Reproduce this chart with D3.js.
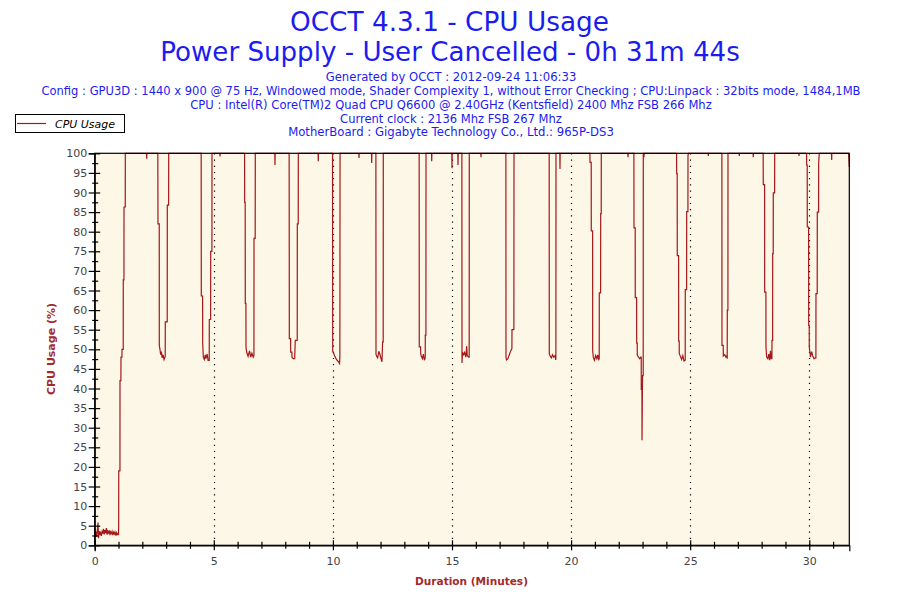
<!DOCTYPE html>
<html>
<head>
<meta charset="utf-8">
<script src="https://cdn.jsdelivr.net/npm/d3@7"></script>
<style>
  html, body { margin: 0; padding: 0; background: #ffffff; }
  svg { display: block; }
</style>
</head>
<body>
<svg id="chart" width="900" height="600"></svg>
<script>
// ---------------- DATA ----------------
const titleLines = ["OCCT 4.3.1 - CPU Usage", "Power Supply - User Cancelled - 0h 31m 44s"];
const infoLines = [
  "Generated by OCCT : 2012-09-24 11:06:33",
  "Config : GPU3D : 1440 x 900 @ 75 Hz, Windowed mode, Shader Complexity 1, without Error Checking ; CPU:Linpack : 32bits mode, 1484,1MB",
  "CPU : Intel(R) Core(TM)2 Quad CPU Q6600 @ 2.40GHz (Kentsfield) 2400 Mhz FSB 266 Mhz",
  "Current clock : 2136 Mhz FSB 267 Mhz",
  "MotherBoard : Gigabyte Technology Co., Ltd.: 965P-DS3"
];
const seriesName = "CPU Usage";
const xAxisTitle = "Duration (Minutes)";
const yAxisTitle = "CPU Usage (%)";
const durationMax = 31.68;               // minutes
const xMajorTicks = [0, 5, 10, 15, 20, 25, 30];
const xMinorTicks = d3.range(0, 32, 1);
const yMajorTicks = d3.range(0, 101, 5);
const yMinorTicks = d3.range(2.5, 100, 5);

// idle start + ramp up  [minute, %]
const startPhase = [
  [0,4.5],[0.02,2.5],[0.05,3.5],[0.08,2.2],[0.11,3.8],[0.14,5.8],[0.16,1.8],[0.19,3.6],[0.22,2.6],
  [0.25,3.2],[0.28,2.4],[0.31,3.5],[0.34,3.0],[0.37,4.2],[0.40,2.8],[0.43,3.9],[0.46,3.1],[0.49,4.4],
  [0.52,2.7],[0.55,3.6],[0.58,3.2],[0.61,3.8],[0.64,2.6],[0.67,3.4],[0.70,3.0],[0.73,3.5],[0.76,2.6],
  [0.79,3.3],[0.82,2.9],[0.85,3.4],[0.88,2.5],[0.91,3.2],[0.94,2.7],[0.97,3.0],[1.0,2.8],
  [1.007,5],[1.01,19],[1.06,19],[1.062,42],[1.10,42],[1.104,48],[1.144,48],[1.146,50],[1.198,50],
  [1.2,67.7],[1.228,67.7],[1.23,86.3],[1.283,86.3],[1.285,100]
];

// periodic dips of the load
const dips = [
  [[2.650,100],[2.657,82],[2.710,82],[2.712,51],[2.74,50],[2.77,48.6],[2.80,49.4],[2.83,47.8],[2.87,48.6],[2.91,47.4],[2.96,48.2],[2.964,57],[3.045,57],[3.048,86.8],[3.104,86.8],[3.107,100]],
  [[4.470,100],[4.475,63.6],[4.530,63.6],[4.534,51.6],[4.56,48],[4.60,47.4],[4.64,48.6],[4.67,47.6],[4.72,48.8],[4.76,47.2],[4.808,47.2],[4.811,57.6],[4.867,57.6],[4.870,75],[4.921,75],[4.924,100]],
  [[6.292,100],[6.297,87.5],[6.318,87.5],[6.322,61.7],[6.348,61.7],[6.352,50.6],[6.38,49.3],[6.44,48.2],[6.50,49.6],[6.55,48],[6.60,49],[6.655,48],[6.685,48.4],[6.688,78.3],[6.738,78.3],[6.742,100]],
  [[8.163,100],[8.168,74],[8.170,52.7],[8.225,52.7],[8.228,49.3],[8.28,49.3],[8.283,47.9],[8.34,47.6],[8.396,47.6],[8.42,52.3],[8.503,52.3],[8.506,82],[8.545,82],[8.548,100]],
  [[9.985,100],[9.992,49.5],[10.03,49],[10.08,48.2],[10.13,47.6],[10.18,47.2],[10.24,46.8],[10.28,46.4],[10.292,48],[10.296,70],[10.30,100]],
  [[11.805,100],[11.810,48.7],[11.84,48.2],[11.88,47.8],[11.93,49.5],[11.98,48.6],[12.03,47.4],[12.06,46.8],[12.088,51.9],[12.112,51.9],[12.116,100]],
  [[13.622,100],[13.627,50.6],[13.683,50.6],[13.686,48.9],[13.711,48.2],[13.76,47.6],[13.80,48.8],[13.84,47.2],[13.876,47.8],[13.879,53.6],[13.905,53.6],[13.909,100]],
  [[15.415,100],[15.420,46.5],[15.44,49.3],[15.49,48.6],[15.53,49.2],[15.58,48],[15.62,50.8],[15.64,48.4],[15.70,48],[15.722,48],[15.726,100]],
  [[17.262,100],[17.267,48],[17.29,47.3],[17.35,47.6],[17.40,48.5],[17.46,49.5],[17.515,50.2],[17.519,55],[17.598,55],[17.603,100]],
  [[19.080,100],[19.085,48.9],[19.12,48.3],[19.17,47.8],[19.22,48.6],[19.27,48],[19.33,48.4],[19.355,47.3],[19.362,48],[19.366,100]],
  [[20.790,100],[20.794,97.7],[20.845,97.7],[20.848,80.2],[20.904,80.2],[20.907,49.8],[20.93,48],[20.98,47.2],[21.03,48.4],[21.08,47.6],[21.12,48.6],[21.159,47.4],[21.181,47.6],[21.184,64.4],[21.240,64.4],[21.243,84.6],[21.265,84.6],[21.268,100]],
  [[22.636,100],[22.641,81],[22.692,81],[22.695,63.2],[22.751,63.2],[22.754,51.6],[22.776,51.6],[22.779,48.5],[22.83,48],[22.88,47.6],[22.922,48],[22.944,48],[22.947,39.8],[22.975,39.8],[22.977,26.8],[23.0,43.3],[23.028,43.3],[23.031,100]],
  [[24.428,100],[24.433,94.8],[24.455,94.8],[24.458,73.9],[24.514,73.9],[24.517,52.1],[24.539,52.1],[24.542,48.9],[24.59,48.2],[24.64,47.4],[24.69,48.4],[24.740,47],[24.791,47.2],[24.794,65.2],[24.850,65.2],[24.853,85.1],[24.905,85.1],[24.908,99.5],[24.93,100]],
  [[26.330,100],[26.335,51],[26.387,51],[26.390,48.3],[26.45,48.6],[26.50,48],[26.532,48.3],[26.555,47.6],[26.558,60],[26.584,60],[26.587,100]],
  [[28.064,100],[28.069,92],[28.125,92],[28.128,64.6],[28.179,64.6],[28.182,50.6],[28.21,48],[28.26,47.6],[28.30,48.8],[28.34,47.2],[28.37,49.6],[28.405,47.6],[28.431,47.6],[28.434,52.3],[28.461,52.3],[28.464,74.4],[28.486,74.4],[28.489,89.9],[28.545,89.9],[28.548,100]],
  [[29.886,100],[29.891,97],[29.913,97],[29.916,81.2],[29.972,81.2],[29.975,56.1],[29.997,56.1],[30.000,50.6],[30.05,48],[30.10,49.4],[30.15,48.2],[30.20,47.6],[30.252,47.8],[30.278,47.8],[30.281,64.2],[30.333,64.2],[30.336,85],[30.391,85],[30.394,97.6],[30.42,100]]
];

// small drops just below 100 %  [minute, %]
const topBlips = [
  [2.183,98.6],[5.260,99.2],[7.569,97.0],[9.387,98.0],[11.096,98.8],[11.629,97.5],[14.148,98.0],
  [15.000,96.2],[15.252,97.0],[16.218,99.0],[19.534,96.0],[22.389,99.0],[23.061,99.0],[25.760,99.3],
  [27.061,99.3],[27.649,99.0],[29.568,99.3],[30.940,98.3]
];

const endPhase = [[31.650,100],[31.655,99.5],[31.68,96.5]];

// ---------------- BUILD SERIES ----------------
let series = [];
startPhase.forEach(p => series.push(p));
dips.forEach(d => d.forEach(p => series.push(p)));
topBlips.forEach(([t, v]) => { series.push([t - 0.008, 100], [t, v], [t + 0.008, 100]); });
endPhase.forEach(p => series.push(p));
series.sort((a, b) => a[0] - b[0]);

// ---------------- DRAW ----------------
const svg = d3.select("#chart");
const plot = { left: 94.7, right: 849.3, top: 153.3, bottom: 545.3 };
const lineColor = "#A31818";
const axisTitleColor = "#A52A2A";
const blue = "#1c1cf0";

const x = d3.scaleLinear().domain([0, durationMax]).range([plot.left, plot.right]);
const y = d3.scaleLinear().domain([0, 100]).range([plot.bottom, plot.top]);

function fitText(sel, target) {
  const w = sel.node().getComputedTextLength();
  const fs = parseFloat(sel.attr("font-size"));
  sel.attr("font-size", (fs * target / w).toFixed(2));
}

// titles
const t1 = svg.append("text").attr("x", 449.5).attr("y", 31).attr("text-anchor", "middle")
  .attr("font-family", "DejaVu Sans, Verdana, sans-serif").attr("font-size", 24).attr("fill", blue).text(titleLines[0]);
fitText(t1, 319);
const t2 = svg.append("text").attr("x", 450).attr("y", 61).attr("text-anchor", "middle")
  .attr("font-family", "DejaVu Sans, Verdana, sans-serif").attr("font-size", 24).attr("fill", blue).text(titleLines[1]);
fitText(t2, 580);

const infoBase = [80.5, 95, 108.5, 122.5, 135.5];
const infoWidths = [251, 820, 522, 222, 326];
infoLines.forEach((s, i) => {
  const t = svg.append("text").attr("x", 451).attr("y", infoBase[i]).attr("text-anchor", "middle")
    .attr("font-family", "DejaVu Sans, Verdana, sans-serif").attr("font-size", 11)
    .attr("fill", blue).text(s);
  fitText(t, infoWidths[i]);
});

// plot background
svg.append("rect").attr("x", plot.left).attr("y", plot.top)
  .attr("width", plot.right - plot.left).attr("height", plot.bottom - plot.top)
  .attr("fill", "#FDF7E8");

// dotted grid
svg.append("g").selectAll("line").data(xMajorTicks.filter(d => d > 0)).join("line")
  .attr("x1", d => Math.round(x(d)) + 0.5).attr("x2", d => Math.round(x(d)) + 0.5)
  .attr("y1", plot.top).attr("y2", plot.bottom)
  .attr("stroke", "#000").attr("stroke-width", 1.2).attr("stroke-dasharray", "1.2,5");

// series line
svg.append("path").datum(series)
  .attr("d", d3.line().x(d => x(d[0])).y(d => y(d[1])))
  .attr("fill", "none").attr("stroke", lineColor).attr("stroke-width", 1.2);

// frame
svg.append("rect").attr("x", plot.left).attr("y", plot.top)
  .attr("width", plot.right - plot.left).attr("height", plot.bottom - plot.top)
  .attr("fill", "none").attr("stroke", "#000").attr("stroke-width", 1.2);

// axes
const tickFont = "DejaVu Sans, Verdana, sans-serif";
const yAxis = svg.append("g").attr("transform", `translate(${plot.left},0)`)
  .call(d3.axisLeft(y).tickValues(yMajorTicks).tickSize(6).tickPadding(1.5).tickFormat(d3.format("d")));
yAxis.select(".domain").attr("stroke", "#000").attr("stroke-width", 1.2);
yAxis.selectAll(".tick line").attr("x1", 5.5).attr("x2", -6).attr("stroke", "#000").attr("stroke-width", 1.2);
yAxis.selectAll(".tick text").attr("font-family", tickFont).attr("font-size", 11).attr("fill", "#444");

const yMinor = svg.append("g").attr("transform", `translate(${plot.left},0)`)
  .call(d3.axisLeft(y).tickValues(yMinorTicks).tickSize(2).tickFormat(""));
yMinor.select(".domain").remove();
yMinor.selectAll(".tick line").attr("x1", 3.5).attr("x2", -2.5).attr("stroke", "#000").attr("stroke-width", 1.2);

const xAxis = svg.append("g").attr("transform", `translate(0,${plot.bottom})`)
  .call(d3.axisBottom(x).tickValues(xMajorTicks).tickSize(6).tickPadding(5.4).tickFormat(d3.format("d")));
xAxis.select(".domain").attr("stroke", "#000").attr("stroke-width", 1.2);
xAxis.selectAll(".tick line").attr("y1", -5).attr("y2", 5).attr("stroke", "#000").attr("stroke-width", 1.2);
xAxis.selectAll(".tick text").attr("font-family", tickFont).attr("font-size", 11).attr("fill", "#444");

const xMinor = svg.append("g").attr("transform", `translate(0,${plot.bottom})`)
  .call(d3.axisBottom(x).tickValues(xMinorTicks.filter(d => d % 5 !== 0)).tickSize(3).tickFormat(""));
xMinor.select(".domain").remove();
xMinor.selectAll(".tick line").attr("y1", -3.5).attr("y2", 3.5).attr("stroke", "#000").attr("stroke-width", 1.2);

// axis titles
const xt = svg.append("text").attr("x", 471.5).attr("y", 585).attr("text-anchor", "middle")
  .attr("font-family", "DejaVu Sans, Verdana, sans-serif").attr("font-weight", "bold").attr("font-size", 12)
  .attr("fill", axisTitleColor).text(xAxisTitle);
fitText(xt, 113);
const yt = svg.append("text").attr("transform", "translate(55,349) rotate(-90)").attr("text-anchor", "middle")
  .attr("font-family", "DejaVu Sans, Verdana, sans-serif").attr("font-weight", "bold").attr("font-size", 12)
  .attr("fill", axisTitleColor).text(yAxisTitle);
fitText(yt, 92);

// legend
const lg = svg.append("g");
lg.append("rect").attr("x", 15.5).attr("y", 114.5).attr("width", 109).attr("height", 18)
  .attr("fill", "#fff").attr("stroke", "#000").attr("stroke-width", 1);
lg.append("line").attr("x1", 17).attr("x2", 46).attr("y1", 123.5).attr("y2", 123.5)
  .attr("stroke", lineColor).attr("stroke-width", 1.2);
const lt = lg.append("text").attr("x", 55).attr("y", 127.5)
  .attr("font-family", "DejaVu Sans, Verdana, sans-serif").attr("font-style", "italic")
  .attr("font-size", 11).attr("fill", "#000").text(seriesName);
fitText(lt, 60);
</script>
</body>
</html>
